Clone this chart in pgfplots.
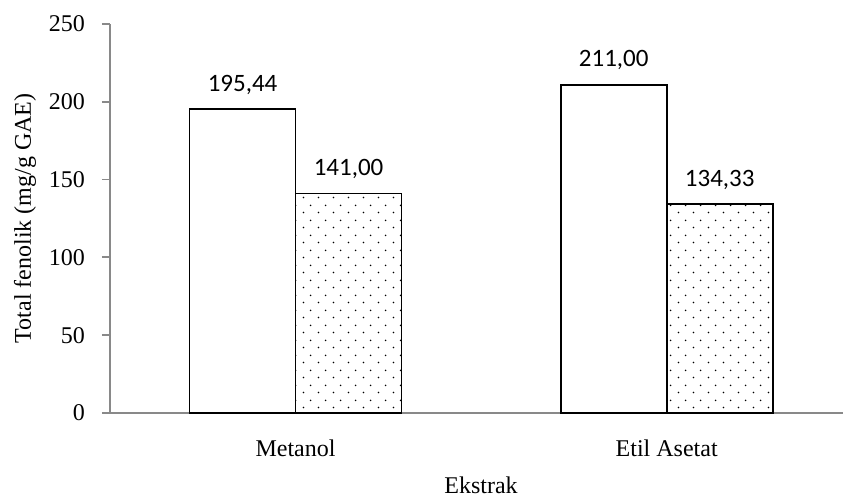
\documentclass[border=0pt]{standalone}
\usepackage{fontspec}
\setmainfont{Liberation Serif}
\newfontfamily\calibri{Carlito}
\usepackage{pgfplots}
\pgfplotsset{compat=1.18}
\usetikzlibrary{patterns}
% sparse staggered dots like the reference fill
\pgfdeclarepatternformonly{sparsedots}{\pgfqpoint{0pt}{0pt}}{\pgfqpoint{7.5pt}{7.5pt}}{\pgfqpoint{7.5pt}{7.5pt}}{%
  \pgfpathcircle{\pgfqpoint{1.875pt}{1.875pt}}{0.45pt}%
  \pgfpathcircle{\pgfqpoint{5.625pt}{5.625pt}}{0.45pt}%
  \pgfusepath{fill}}
\definecolor{axisgray}{RGB}{137,137,137}

\begin{document}
\begin{tikzpicture}
\path[use as bounding box] (-55pt,-44pt) rectangle (366.5pt,206.5pt);
\begin{axis}[
    at={(0,0)}, anchor=south west,
    scale only axis,
    width=366.5pt, height=194.5pt,
    xmin=-0.5, xmax=1.475,
    ymin=0, ymax=250,
    enlargelimits=false,
    clip=false,
    axis x line*=bottom,
    axis y line*=left,
    axis line style={axisgray, line width=0.9pt},
    every tick/.style={axisgray, line width=0.9pt},
    tick align=outside,
    major tick length=4pt,
    minor tick length=4.5pt,
    ytick={0,50,100,150,200,250},
    xtick={0,1},
    xticklabels={Metanol, Etil Asetat},
    x tick style={draw=none},
    minor xtick={-0.5,0.5,1.5},
    minor x tick style={axisgray, line width=0.9pt},
    /pgf/number format/assume math mode=true,
    ticklabel style={font=\fontsize{12}{14}\selectfont},
    yticklabel style={xshift=-5pt},
    xticklabel style={yshift=-6pt},
    xlabel={Ekstrak},
    xlabel style={at={(axis description cs:0.5,0)}, anchor=center, yshift=-36pt, xshift=2.25pt, font=\fontsize{12}{14}\selectfont},
    ylabel={Total fenolik (mg/g GAE)},
    ylabel style={at={(axis description cs:-0.116,0.5)}, anchor=center, font=\fontsize{12}{14}\selectfont},
    ybar=0pt,
    bar width=53pt,
    nodes near coords,
    nodes near coords style={font=\calibri\fontsize{12.5}{14}\selectfont, anchor=south, yshift=3.5pt,
        /pgf/number format/.cd, fixed, fixed zerofill, precision=2, use comma, assume math mode=true},
]
\addplot[draw=black, line width=0.9pt, fill=white] coordinates {(0,195.44) (1,211.00)};
\addplot[draw=black, line width=0.9pt, pattern=sparsedots] coordinates {(0,141.00) (1,134.33)};
\end{axis}
\end{tikzpicture}
\end{document}
